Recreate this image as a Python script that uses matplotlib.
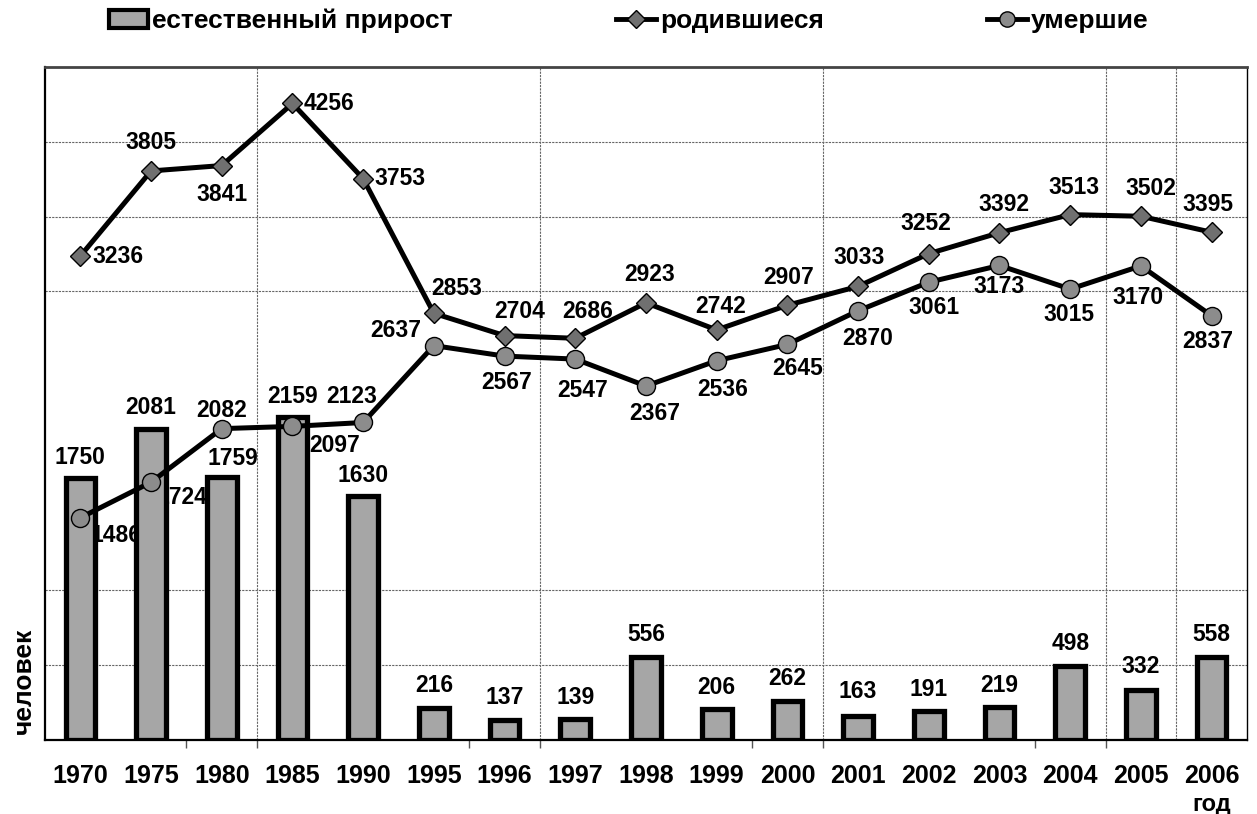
import numpy as np
import matplotlib.pyplot as plt
from matplotlib.patches import Patch
from matplotlib.lines import Line2D

plt.rcParams['font.family'] = ['Liberation Sans', 'DejaVu Sans']
plt.rcParams['font.weight'] = 'bold'

# data
years = ['1970', '1975', '1980', '1985', '1990', '1995', '1996', '1997', '1998',
         '1999', '2000', '2001', '2002', '2003', '2004', '2005', '2006']
born = [3236, 3805, 3841, 4256, 3753, 2853, 2704, 2686, 2923, 2742, 2907,
        3033, 3252, 3392, 3513, 3502, 3395]
died = [1486, 1724, 2082, 2097, 2123, 2637, 2567, 2547, 2367, 2536, 2645,
        2870, 3061, 3173, 3015, 3170, 2837]
growth = [1750, 2081, 1759, 2159, 1630, 216, 137, 139, 556, 206, 262,
          163, 191, 219, 498, 332, 558]

# label offsets in pixels (dx, dy; dy positive = down)
born_off = [(38, 0), (0, -28), (0, 29), (37, 0), (37, 0), (23, -25), (15, -24),
            (12, -27), (4, -28), (4, -23), (1, -28), (1, -29), (-3, -30),
            (4, -28), (4, -27), (10, -28), (-4, -28)]
died_off = [(36, 18), (31, 15), (0, -18), (42, 19), (-11, -26), (-38, -15),
            (2, 26), (7, 31), (9, 27), (6, 29), (10, 24), (10, 28), (5, 25),
            (0, 21), (-1, 25), (-3, 32), (-4, 26)]
bar_off = [(0, -21), (0, -21), (11, -18), (0, -21), (0, -21), (0, -22), (0, -22),
           (0, -22), (0, -22), (0, -22), (0, -22), (0, -24), (0, -22),
           (0, -22), (0, -22), (0, -24), (0, -22)]

x = np.arange(len(years))
px = 0.72  # pixels -> points at 100 dpi
fs = 16.5

fig = plt.figure(figsize=(12.57, 8.14), dpi=100)
ax = fig.add_axes([0.0358, 0.0909, 0.9562, 0.8268])

ax.set_xlim(-0.5, len(years) - 0.5)
ax.set_ylim(0, 4500)

# gridlines
for v in [500, 1000, 3000, 3500, 4000]:
    ax.axhline(v, color='#666666', lw=0.8, ls=(0, (2, 1)), zorder=0)
for b in [3, 7, 11, 15, 16]:
    ax.axvline(b - 0.5, color='#666666', lw=0.8, ls=(0, (2, 1)), zorder=0)

# deaths labels sit behind the bars
for i in range(len(years)):
    ax.annotate(str(died[i]), (x[i], died[i]), xytext=(died_off[i][0] * px, -died_off[i][1] * px),
                textcoords='offset points', ha='center', va='center',
                fontsize=fs, fontweight='bold', zorder=1)

ax.bar(x, growth, width=0.42, color='#a6a6a6', edgecolor='black', linewidth=3.8, zorder=2)

ax.plot(x, born, color='black', lw=3.6, marker='D', ms=10, mfc='#707070',
        mec='black', mew=1.0, zorder=4)
ax.plot(x, died, color='black', lw=3.6, marker='o', ms=13, mfc='#8c8c8c',
        mec='black', mew=1.0, zorder=4)

for i in range(len(years)):
    ax.annotate(str(born[i]), (x[i], born[i]), xytext=(born_off[i][0] * px, -born_off[i][1] * px),
                textcoords='offset points', ha='center', va='center',
                fontsize=fs, fontweight='bold', zorder=5)
    ax.annotate(str(growth[i]), (x[i], growth[i]), xytext=(bar_off[i][0] * px, -bar_off[i][1] * px),
                textcoords='offset points', ha='center', va='center',
                fontsize=fs, fontweight='bold', zorder=5)

ax.set_yticks([])
ax.set_xticks(x)
ax.set_xticklabels(years, fontsize=18, fontweight='bold')
ax.tick_params(axis='x', which='major', length=0, pad=17)
ax.set_xticks([b - 0.5 for b in [2, 3, 6, 7, 10, 11, 14, 15]], minor=True)
ax.tick_params(axis='x', which='minor', length=6, width=1, color='#555555')

for s in ['left', 'bottom']:
    ax.spines[s].set_linewidth(1.6)
ax.spines['top'].set_linewidth(2.0)
ax.spines['top'].set_color('#444444')
ax.spines['right'].set_linewidth(1.0)

fig.text(0.019, 0.163, 'человек', rotation=90, ha='center', va='center',
         fontsize=19, fontweight='bold')
fig.text(0.964, 1 - 804 / 814, 'год', ha='center', va='center', fontsize=17, fontweight='bold')

handles = [Patch(facecolor='#a6a6a6', edgecolor='black', linewidth=3),
           Line2D([], [], color='black', lw=3.5, marker='D', ms=9, mfc='#707070', mec='black'),
           Line2D([], [], color='black', lw=3.5, marker='o', ms=11, mfc='#8c8c8c', mec='black')]
fig.legend(handles, ['естественный прирост', 'родившиеся', 'умершие'], loc='center',
           bbox_to_anchor=(0.5, 1 - 21 / 814), ncol=3, frameon=False,
           prop={'weight': 'bold', 'size': 19}, handlelength=1.5, handletextpad=0.15,
           columnspacing=6.2, borderpad=0.1)

fig.savefig('out.png', dpi=100)
